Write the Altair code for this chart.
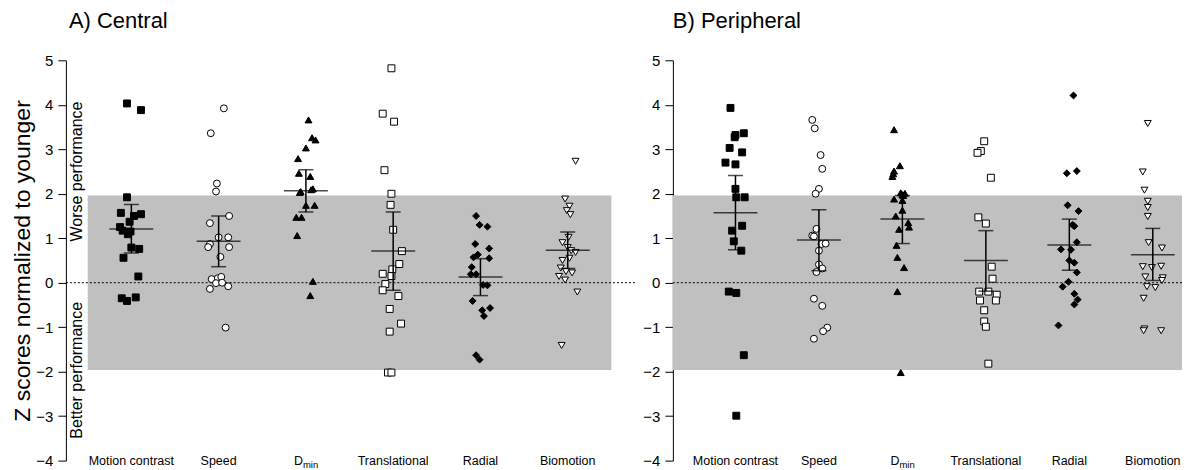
import altair as alt
import pandas as pd

FONT = "Liberation Sans"

categories = ["Motion contrast", "Speed", "Dmin", "Translational", "Radial", "Biomotion"]
shapes = ["square", "circle", "triangle-up", "square", "diamond", "triangle-down"]
fills = ["black", "white", "black", "white", "black", "white"]

# ---- A) Central : z scores and horizontal jitter (fraction of category spacing)
c_mc = [4.03, 3.88, 1.92, 1.57, 1.54, 1.50, 1.37, 1.25, 1.17, 1.15, 1.09, 0.79, 0.76, 0.56, 0.14, -0.35, -0.41, -0.33]
c_mc_j = [-0.05, 0.11, -0.05, -0.12, 0.11, 0.03, -0.02, -0.13, -0.10, -0.01, -0.04, 0.00, 0.09, -0.09, 0.08, -0.11, -0.05, 0.05]
c_sp = [3.92, 3.36, 2.23, 2.05, 1.50, 1.34, 1.02, 1.02, 0.87, 0.80, 0.80, 0.58, 0.08, 0.10, 0.13, -0.01, 0.00, -0.08, -0.14, -1.01]
c_sp_j = [0.06, -0.09, -0.02, -0.03, 0.12, -0.10, 0.00, 0.11, -0.10, -0.12, 0.12, 0.02, -0.08, -0.01, 0.03, -0.03, 0.04, 0.11, -0.10, 0.08]
c_dm = [3.66, 3.26, 3.21, 3.03, 2.79, 2.46, 2.39, 2.11, 2.09, 2.05, 2.03, 1.74, 1.74, 1.47, 1.47, 1.06, 0.03, -0.29]
c_dm_j = [0.03, 0.07, 0.11, 0.00, -0.09, -0.08, 0.05, 0.08, 0.06, -0.06, -0.07, 0.00, 0.10, -0.11, -0.05, -0.10, 0.08, 0.05]
c_tr = [4.82, 3.80, 3.62, 2.53, 2.00, 1.75, 1.19, 0.71, 0.42, 0.30, 0.20, 0.15, -0.03, -0.17, -0.30, -0.59, -0.92, -1.10, -2.02, -2.02]
c_tr_j = [-0.02, -0.12, 0.01, -0.10, -0.02, -0.03, 0.00, 0.10, 0.07, -0.01, -0.12, -0.02, -0.09, -0.12, 0.06, -0.04, 0.09, -0.04, -0.06, -0.02]
c_ra = [1.50, 1.30, 1.26, 0.87, 0.77, 0.63, 0.57, 0.55, 0.35, 0.19, 0.19, -0.05, -0.06, -0.41, -0.57, -0.62, -0.75, -1.63, -1.73]
c_ra_j = [-0.05, -0.01, 0.08, -0.06, 0.10, -0.03, -0.08, 0.10, -0.10, -0.11, -0.05, 0.03, 0.08, -0.09, 0.11, 0.02, 0.04, -0.05, -0.01]
c_bi = [2.73, 1.88, 1.72, 1.62, 1.53, 1.02, 0.90, 0.79, 0.72, 0.68, 0.55, 0.50, 0.33, 0.25, 0.22, 0.14, 0.06, -0.21, -1.41]
c_bi_j = [0.09, -0.03, 0.02, -0.01, 0.03, 0.01, -0.06, 0.00, 0.04, 0.09, 0.02, -0.06, -0.08, -0.02, 0.05, -0.10, -0.03, 0.11, -0.07]
c_mean = [1.21, 0.93, 2.07, 0.71, 0.13, 0.73]
c_hi = [1.76, 1.50, 2.54, 1.59, 0.54, 1.14]
c_lo = [0.67, 0.36, 1.59, -0.17, -0.29, 0.32]

# ---- B) Peripheral
p_mc = [3.93, 3.36, 3.32, 3.27, 3.03, 2.93, 2.70, 2.66, 2.11, 1.92, 1.92, 1.28, 1.17, 0.93, 0.72, -0.20, -0.23, -1.63, -2.99]
p_mc_j = [-0.06, 0.10, 0.00, -0.01, -0.07, 0.08, -0.12, 0.00, 0.00, 0.01, 0.11, 0.08, -0.04, -0.02, 0.07, -0.08, 0.01, 0.10, 0.01]
p_sp = [3.66, 3.47, 2.87, 2.56, 2.11, 2.00, 1.21, 1.06, 1.04, 0.87, 0.88, 0.72, 0.41, 0.32, 0.24, -0.36, -0.52, -1.01, -1.09, -1.26]
p_sp_j = [-0.08, -0.05, 0.02, 0.04, 0.00, -0.04, -0.03, -0.08, -0.06, 0.03, 0.08, 0.00, 0.00, 0.04, -0.03, -0.06, 0.04, 0.10, 0.05, -0.06]
p_dm = [3.44, 2.63, 2.51, 2.45, 2.39, 2.02, 2.01, 1.98, 1.96, 1.88, 1.85, 1.63, 1.50, 1.35, 1.25, 1.20, 0.84, 0.57, 0.34, -0.20, -2.02]
p_dm_j = [-0.10, -0.03, -0.10, -0.11, -0.12, -0.02, 0.03, 0.00, 0.01, -0.10, 0.00, 0.00, -0.08, 0.07, 0.08, -0.04, -0.07, -0.06, 0.02, -0.06, -0.02]
p_tr = [3.18, 2.96, 2.92, 2.36, 1.47, 1.33, 0.36, 0.09, -0.20, -0.20, -0.27, -0.40, -0.40, -0.62, -0.87, -0.99, -1.82]
p_tr_j = [-0.02, -0.06, -0.10, 0.06, -0.09, 0.00, 0.07, 0.08, -0.08, 0.03, 0.13, -0.07, 0.12, -0.02, -0.02, 0.00, 0.03]
p_ra = [4.21, 2.51, 2.46, 1.74, 1.61, 1.30, 1.27, 0.91, 0.75, 0.74, 0.50, 0.45, 0.23, 0.02, -0.09, -0.25, -0.38, -0.49, -0.96]
p_ra_j = [0.05, 0.09, -0.03, -0.02, 0.11, 0.04, 0.06, 0.09, -0.10, 0.02, 0.00, 0.06, 0.09, -0.01, -0.08, 0.06, 0.10, 0.06, -0.13]
p_bi = [3.58, 2.49, 2.08, 1.83, 1.69, 1.49, 0.90, 0.78, 0.36, 0.34, 0.37, 0.13, 0.11, 0.05, -0.09, -0.11, -0.35, -1.04, -1.08, -1.08]
p_bi_j = [-0.06, -0.12, -0.10, -0.06, -0.06, -0.06, -0.05, 0.11, -0.12, -0.01, 0.10, -0.09, 0.12, 0.11, -0.07, 0.03, -0.11, -0.10, -0.11, 0.10]
p_mean = [1.57, 0.96, 1.43, 0.50, 0.85, 0.63]
p_hi = [2.41, 1.64, 1.96, 1.17, 1.43, 1.22]
p_lo = [0.74, 0.27, 0.88, -0.19, 0.28, 0.05]

band_low, band_high = -1.96, 1.96
y_ticks = list(range(-4, 6))
Y_MIN, Y_MAX = -4, 5


def points_df(series):
    rows = []
    for i, (vals, jit) in enumerate(series):
        for v, j in zip(vals, jit):
            rows.append({"cat": categories[i], "x": i + 1 + j, "z": v})
    return pd.DataFrame(rows)


def summary_df(mean, lo, hi):
    return pd.DataFrame({"cat": categories, "pos": list(range(1, 7)), "mean": mean, "lo": lo, "hi": hi})


def panel(title, pts, summ, x_dom, width, left, band_x0, title_dx):
    xs = alt.Scale(domain=x_dom, nice=False, zero=False)
    ys = alt.Scale(domain=[Y_MIN, Y_MAX], nice=False, zero=False)
    yaxis = alt.Axis(values=y_ticks, title="Z scores normalized to younger" if left else None,
                     grid=False, domainColor="black", tickColor="black", tickSize=8,
                     labelFontSize=15, labelColor="black", labelPadding=5, labelFont=FONT,
                     titleFont=FONT, titleFontSize=23, titleFontWeight="normal",
                     titleColor="black", titlePadding=1)

    band_df = pd.DataFrame({"x0": [band_x0], "x1": [len(categories) + 0.5],
                            "lo": [band_low], "hi": [band_high]})
    if left:
        band = alt.Chart(band_df).mark_rect(color="#c0c0c0").encode(
            x=alt.X("x0:Q", scale=xs, axis=None), x2="x1:Q",
            y=alt.Y("lo:Q", scale=ys, axis=yaxis), y2="hi:Q")
    else:
        band = alt.Chart(band_df).mark_rect(color="#c0c0c0").encode(
            x=alt.value(0), x2=alt.value(width),
            y=alt.Y("lo:Q", scale=ys, axis=yaxis), y2="hi:Q")

    zero = alt.Chart(pd.DataFrame({"z": [0]})).mark_rule(
        color="black", strokeDash=[2, 2], strokeWidth=1).encode(y=alt.Y("z:Q", scale=ys))

    pts_layer = alt.Chart(pts).mark_point(size=48, strokeWidth=1, opacity=1, filled=False).encode(
        x=alt.X("x:Q", scale=xs, axis=None),
        y=alt.Y("z:Q", scale=ys),
        shape=alt.Shape("cat:N", scale=alt.Scale(domain=categories, range=shapes), legend=None),
        fill=alt.Fill("cat:N", scale=alt.Scale(domain=categories, range=fills), legend=None),
        stroke=alt.value("black"))

    vbar = alt.Chart(summ).mark_rule(color="black", strokeWidth=1.5).encode(
        x=alt.X("pos:Q", scale=xs), y=alt.Y("lo:Q", scale=ys), y2="hi:Q")
    cap_lo = alt.Chart(summ).mark_tick(color="black", orient="horizontal", size=15, thickness=1.5).encode(
        x=alt.X("pos:Q", scale=xs), y=alt.Y("lo:Q", scale=ys))
    cap_hi = alt.Chart(summ).mark_tick(color="black", orient="horizontal", size=15, thickness=1.5).encode(
        x=alt.X("pos:Q", scale=xs), y=alt.Y("hi:Q", scale=ys))
    mline = alt.Chart(summ).mark_tick(color="black", orient="horizontal", size=44, thickness=1.5).encode(
        x=alt.X("pos:Q", scale=xs), y=alt.Y("mean:Q", scale=ys))

    lab_df = pd.DataFrame({"pos": list(range(1, 7)), "label": categories, "y": [Y_MIN] * 6})
    lab_plain = lab_df[lab_df["label"] != "Dmin"]
    lab_d = lab_df[lab_df["label"] == "Dmin"]
    labels = alt.Chart(lab_plain).mark_text(font=FONT, fontSize=12.5, color="black", baseline="middle").encode(
        x=alt.X("pos:Q", scale=xs), y=alt.Y("y:Q", scale=ys), text="label:N")
    lab_D = alt.Chart(lab_d).mark_text(font=FONT, fontSize=12.5, color="black", baseline="middle",
                                       align="right", dx=-3).encode(
        x=alt.X("pos:Q", scale=xs), y=alt.Y("y:Q", scale=ys), text=alt.value("D"))
    lab_min = alt.Chart(lab_d).mark_text(font=FONT, fontSize=9.5, color="black", baseline="middle",
                                         align="left", dx=-3, dy=4).encode(
        x=alt.X("pos:Q", scale=xs), y=alt.Y("y:Q", scale=ys), text=alt.value("min"))

    # panel heading, drawn as a text mark just above the plot area
    head = alt.Chart(pd.DataFrame({"t": [title]})).mark_text(
        font=FONT, fontSize=22, color="black", align="left", baseline="alphabetic").encode(
        x=alt.value(title_dx), y=alt.value(-32), text="t:N")

    layers = [band, zero, pts_layer, vbar, cap_lo, cap_hi, mline, labels, lab_D, lab_min, head]
    if left:
        perf = pd.DataFrame({"t": ["Worse performance", "Better performance"], "y": [2.5, -1.97]})
        layers.append(alt.Chart(perf).mark_text(font=FONT, fontSize=16, color="black", angle=270,
                                                baseline="middle").encode(
            x=alt.value(11), y=alt.Y("y:Q", scale=ys), text="t:N"))

    return alt.layer(*layers).properties(width=width, height=401)


left_pts = points_df([(c_mc, c_mc_j), (c_sp, c_sp_j), (c_dm, c_dm_j), (c_tr, c_tr_j), (c_ra, c_ra_j), (c_bi, c_bi_j)])
right_pts = points_df([(p_mc, p_mc_j), (p_sp, p_sp_j), (p_dm, p_dm_j), (p_tr, p_tr_j), (p_ra, p_ra_j), (p_bi, p_bi_j)])

left_chart = panel("A) Central", left_pts, summary_df(c_mean, c_lo, c_hi), [0.25, 6.77], 570, True, 0.5, 3)
right_chart = panel("B) Peripheral", right_pts, summary_df(p_mean, p_lo, p_hi), [0.25, 6.35], 510, False, 0.25, 0)

chart = alt.hconcat(left_chart, right_chart, spacing=6).configure_view(
    stroke="transparent", strokeWidth=0).properties(
    padding={"left": 3, "top": 2, "right": 0, "bottom": 0}, background="white")

chart.save("out.html", embed_options={"renderer": "svg", "actions": False})
